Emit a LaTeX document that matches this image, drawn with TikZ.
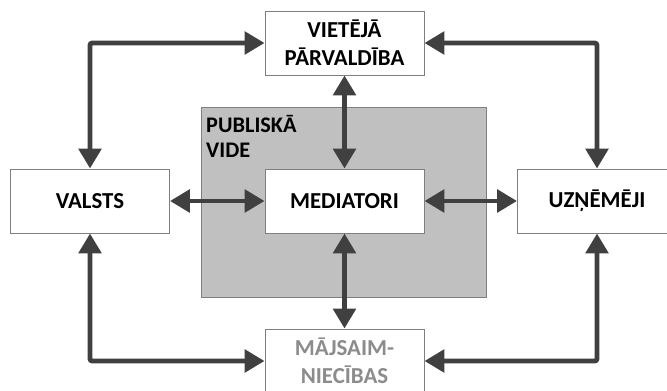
\documentclass[tikz,border=0pt]{standalone}
\usepackage{fontspec}
\setmainfont{Carlito}
\usetikzlibrary{arrows.meta}

\definecolor{framegray}{HTML}{7F7F7F}
\definecolor{areagray}{HTML}{C0C0C0}
\definecolor{arrowgray}{HTML}{404040}
\definecolor{fadedtext}{HTML}{8C8C8C}

\begin{document}
\begin{tikzpicture}[
        x=0.03cm, y=-0.03cm,
        actor/.style={rectangle, draw=framegray, line width=0.8pt, fill=white,
            minimum width=4.77cm, minimum height=1.92cm, inner sep=0pt,
            align=center, font=\fontsize{19.5}{24}\selectfont\bfseries},
        link/.style={{Triangle[length=17pt,width=19pt]}-{Triangle[length=17pt,width=19pt]},
            draw=arrowgray, line width=4.2pt, rounded corners=2pt}
    ]
        \useasboundingbox (0,0) rectangle (667,391);
        \clip (0,0) rectangle (667,391);

        % shared space behind the mediators
        \node[rectangle, draw=framegray, line width=0.8pt, fill=areagray,
            minimum width=8.55cm, minimum height=5.7cm, inner sep=0pt,
            anchor=north west] (vide) at (201,107) {};
        \node[anchor=north west, align=left, inner sep=0pt,
            font=\fontsize{19}{21.5}\selectfont\bfseries] (videlbl) at (206,115)
            {PUBLISKĀ\\VIDE};

        \node[actor] (vp) at (344.5,43) {VIETĒJĀ\\PĀRVALDĪBA};
        \node[actor] (med) at (344.5,201) {MEDIATORI};
        \node[actor] (val) at (90,201) {VALSTS};
        \node[actor] (uzn) at (597,201) {UZŅĒMĒJI};
        \node[actor, text=fadedtext] (maj) at (344.5,361) {MĀJSAIM-\\NIECĪBAS};

        \draw[link] (val.north) |- (vp.west);
        \draw[link] (uzn.north) |- (vp.east);
        \draw[link] (val.south) |- (maj.west);
        \draw[link] (uzn.south) |- (maj.east);
        \draw[link] (vp.south) -- (med.north);
        \draw[link] (med.south) -- (maj.north);
        \draw[link] (val.east) -- (med.west);
        \draw[link] (med.east) -- (uzn.west);
    \end{tikzpicture}
\end{document}
